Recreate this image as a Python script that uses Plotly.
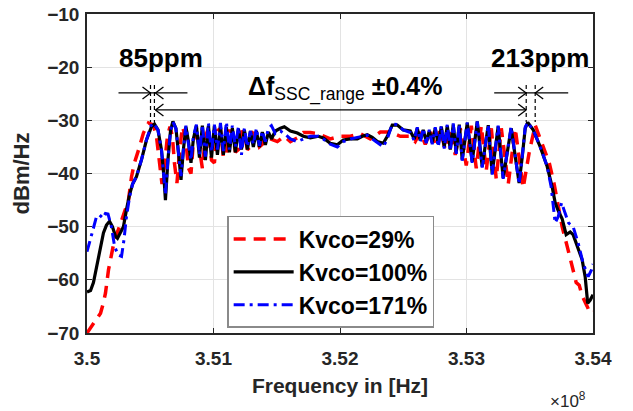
import plotly.graph_objects as go

# ---------------- data (frequency in MHz, PSD in dBm/Hz) ----------------
red_29 = [
    (350.000, -70.0), (350.028, -69.0), (350.051, -68.3), (350.083, -67.3), (350.107, -66.3),
    (350.130, -64.3), (350.146, -62.5), (350.170, -58.1), (350.193, -55.0), (350.217, -52.5),
    (350.257, -50.0), (350.296, -47.5), (350.328, -45.0), (350.352, -40.6), (350.375, -38.0),
    (350.407, -35.6), (350.446, -32.4), (350.486, -30.5), (350.525, -30.9), (350.549, -33.0),
    (350.565, -36.2), (350.577, -39.3), (350.593, -42.0), (350.612, -38.5), (350.636, -33.0),
    (350.656, -31.2), (350.675, -33.0), (350.691, -38.0), (350.711, -41.8), (350.731, -36.0),
    (350.754, -31.2), (350.778, -33.0), (350.802, -39.0), (350.822, -40.0), (350.841, -34.0),
    (350.865, -31.5), (350.889, -35.0), (350.912, -39.0), (350.936, -33.0), (350.960, -31.5),
    (350.984, -37.5), (351.007, -38.0), (351.031, -32.0), (351.055, -31.5), (351.078, -37.0),
    (351.102, -36.5), (351.126, -32.0), (351.149, -32.0), (351.173, -36.0), (351.197, -35.5),
    (351.221, -32.0), (351.244, -32.5), (351.268, -35.5), (351.292, -35.0), (351.315, -32.5),
    (351.339, -33.0), (351.363, -35.0), (351.386, -34.5), (351.410, -33.0), (351.450, -33.5),
    (351.505, -34.0), (351.560, -33.0), (351.608, -34.0), (351.663, -33.3), (351.710, -32.3),
    (351.766, -32.3), (351.829, -32.5), (351.923, -33.5), (352.002, -33.0), (352.082, -33.0),
    (352.161, -32.5), (352.240, -33.5), (352.319, -32.2), (352.398, -32.2), (352.477, -33.0),
    (352.556, -33.0), (352.595, -34.0), (352.635, -32.2), (352.674, -34.5), (352.714, -32.0),
    (352.753, -35.0), (352.793, -31.8), (352.832, -35.5), (352.872, -31.5), (352.911, -36.5),
    (352.951, -31.5), (352.998, -38.5), (353.038, -31.0), (353.077, -39.0), (353.117, -31.0),
    (353.156, -39.5), (353.196, -31.5), (353.235, -41.0), (353.275, -31.5), (353.330, -42.0),
    (353.385, -31.5), (353.448, -42.7), (353.496, -36.0), (353.543, -30.9), (353.606, -35.0),
    (353.654, -38.0), (353.693, -42.0), (353.725, -46.0), (353.756, -50.0), (353.796, -53.7),
    (353.835, -57.5), (353.867, -60.5), (353.891, -61.0), (353.914, -63.0), (353.954, -65.0),
    (353.978, -66.3), (354.000, -66.0),
]

black_100 = [
    (350.000, -62.3), (350.028, -62.0), (350.051, -60.5), (350.075, -57.5), (350.099, -55.3),
    (350.115, -53.0), (350.130, -51.2), (350.154, -49.7), (350.178, -49.0), (350.201, -50.0),
    (350.225, -51.8), (350.241, -52.2), (350.257, -51.5), (350.288, -50.0), (350.312, -46.8),
    (350.336, -44.0), (350.360, -42.0), (350.391, -40.6), (350.431, -37.4), (350.470, -33.7),
    (350.510, -31.2), (350.533, -30.7), (350.561, -31.8), (350.589, -35.6), (350.608, -40.6),
    (350.620, -45.0), (350.640, -37.4), (350.660, -32.0), (350.679, -30.2), (350.703, -31.5),
    (350.727, -37.0), (350.743, -41.2), (350.762, -35.5), (350.782, -31.2), (350.802, -34.0),
    (350.822, -38.0), (350.841, -33.5), (350.865, -31.0), (350.889, -37.0), (350.912, -31.0),
    (350.936, -37.5), (350.960, -31.0), (350.984, -37.0), (351.007, -31.0), (351.031, -36.5),
    (351.055, -31.2), (351.078, -36.5), (351.102, -31.3), (351.126, -36.0), (351.149, -31.5),
    (351.173, -36.0), (351.197, -31.6), (351.221, -35.5), (351.244, -31.8), (351.268, -35.5),
    (351.292, -32.0), (351.315, -35.0), (351.339, -32.0), (351.363, -35.0), (351.386, -32.2),
    (351.410, -34.6), (351.434, -32.2), (351.458, -33.5), (351.489, -32.0), (351.529, -31.5),
    (351.560, -31.2), (351.608, -32.0), (351.663, -32.4), (351.710, -33.0), (351.766, -33.3),
    (351.829, -33.0), (351.868, -33.3), (351.923, -34.3), (351.979, -34.6), (352.026, -33.7),
    (352.082, -33.5), (352.137, -33.5), (352.176, -33.0), (352.216, -32.7), (352.255, -33.2),
    (352.295, -34.0), (352.342, -34.3), (352.374, -33.0), (352.413, -30.9), (352.453, -30.9),
    (352.500, -31.8), (352.556, -32.0), (352.587, -33.5), (352.611, -31.5), (352.635, -33.8),
    (352.658, -31.8), (352.682, -34.0), (352.706, -32.0), (352.729, -34.2), (352.753, -31.5),
    (352.777, -34.5), (352.801, -31.2), (352.824, -35.0), (352.848, -31.0), (352.872, -35.5),
    (352.895, -30.8), (352.919, -36.0), (352.943, -30.8), (352.966, -37.4), (353.006, -30.5),
    (353.045, -37.8), (353.085, -30.2), (353.124, -38.7), (353.172, -30.9), (353.203, -40.0),
    (353.250, -31.2), (353.290, -40.8), (353.353, -31.5), (353.416, -41.8), (353.440, -37.0),
    (353.464, -31.5), (353.484, -30.4), (353.527, -31.8), (353.583, -35.0), (353.638, -38.7),
    (353.677, -42.5), (353.701, -45.5), (353.725, -47.0), (353.756, -48.5), (353.788, -51.5),
    (353.820, -51.0), (353.843, -51.5), (353.875, -53.7), (353.914, -56.2), (353.938, -59.4),
    (353.958, -64.4), (353.978, -63.8), (354.000, -62.8),
]

blue_171 = [
    (350.000, -54.7), (350.020, -53.1), (350.047, -50.6), (350.075, -48.1), (350.099, -47.8),
    (350.126, -48.4), (350.146, -47.5), (350.166, -47.6), (350.193, -50.0), (350.218, -53.7),
    (350.245, -55.3), (350.273, -55.6), (350.292, -52.5), (350.312, -48.1), (350.336, -44.5),
    (350.360, -42.0), (350.391, -40.6), (350.431, -37.4), (350.470, -33.7), (350.506, -31.0),
    (350.526, -30.5), (350.561, -31.8), (350.589, -35.6), (350.608, -40.6), (350.620, -44.0),
    (350.640, -37.4), (350.660, -32.0), (350.679, -30.3), (350.703, -31.5), (350.727, -37.0),
    (350.743, -40.5), (350.762, -35.5), (350.782, -31.0), (350.802, -34.5), (350.822, -37.5),
    (350.841, -33.0), (350.865, -30.8), (350.889, -36.5), (350.912, -30.8), (350.936, -36.8),
    (350.960, -30.5), (350.984, -36.0), (351.007, -30.8), (351.031, -35.5), (351.055, -30.5),
    (351.078, -35.8), (351.102, -30.3), (351.126, -35.5), (351.149, -31.0), (351.173, -35.0),
    (351.197, -31.2), (351.221, -36.5), (351.244, -31.5), (351.268, -35.0), (351.292, -32.0),
    (351.315, -34.5), (351.339, -31.5), (351.363, -34.8), (351.386, -32.0), (351.410, -34.0),
    (351.434, -31.5), (351.458, -31.0), (351.489, -32.5), (351.529, -32.0), (351.560, -32.5),
    (351.608, -33.5), (351.663, -34.0), (351.710, -33.5), (351.766, -33.0), (351.829, -33.0),
    (351.868, -33.5), (351.923, -34.5), (351.979, -35.0), (352.026, -34.0), (352.082, -33.5),
    (352.137, -33.2), (352.176, -33.0), (352.216, -32.8), (352.255, -33.5), (352.295, -34.2),
    (352.342, -35.0), (352.374, -33.5), (352.413, -30.7), (352.453, -30.8), (352.500, -31.8),
    (352.556, -32.3), (352.587, -33.8), (352.611, -31.3), (352.635, -34.0), (352.658, -31.5),
    (352.682, -34.3), (352.706, -31.8), (352.729, -34.5), (352.753, -31.3), (352.777, -35.0),
    (352.801, -31.0), (352.824, -35.3), (352.848, -30.8), (352.872, -35.8), (352.895, -30.6),
    (352.919, -36.3), (352.943, -30.6), (352.966, -37.6), (353.006, -30.4), (353.045, -38.0),
    (353.085, -30.2), (353.124, -38.9), (353.172, -30.8), (353.203, -40.2), (353.250, -31.0),
    (353.290, -41.0), (353.353, -31.2), (353.416, -42.0), (353.440, -37.0), (353.464, -31.3),
    (353.484, -30.4), (353.527, -31.8), (353.583, -35.0), (353.638, -38.7), (353.669, -42.5),
    (353.701, -49.3), (353.725, -48.1), (353.752, -45.5), (353.780, -47.5), (353.807, -49.3),
    (353.843, -50.0), (353.883, -53.1), (353.922, -56.9), (353.962, -59.4), (353.989, -58.1),
    (354.000, -57.0),
]

series_names = ["Kvco=29%", "Kvco=100%", "Kvco=171%"]
x_tick_vals_hz = [3.50e8, 3.51e8, 3.52e8, 3.53e8, 3.54e8]
x_tick_text = ["3.5", "3.51", "3.52", "3.53", "3.54"]
y_tick_vals = [-10, -20, -30, -40, -50, -60, -70]

# annotation markers (frequencies in MHz)
left_edges_mhz = [350.502, 350.533]
right_edges_mhz = [353.472, 353.543]

FONT = "Liberation Sans, Arial, sans-serif"


def unzip(pairs):
    return [p[0] * 1e6 for p in pairs], [p[1] for p in pairs]


fig = go.Figure()
styles = [
    dict(color="#ff0000", width=3.5, dash="12px,8px"),
    dict(color="#000000", width=3.2),
    dict(color="#0000ff", width=3.0, dash="11px,5px,3px,5px"),
]
for data, name, st in zip([red_29, black_100, blue_171], series_names, styles):
    xs, ys = unzip(data)
    fig.add_trace(go.Scatter(x=xs, y=ys, mode="lines", name=name, line=st))

# ---- annotation shapes ----
shapes = []
y_small = -24.85
y_long = -28.05
y_top = -23.35
y_bot = -30.3


def hline(x0, x1, y):
    return dict(type="line", xref="x", yref="y", x0=x0 * 1e6, x1=x1 * 1e6, y0=y, y1=y,
                line=dict(color="black", width=1.3))


def vdash(x):
    return dict(type="line", xref="x", yref="y", x0=x * 1e6, x1=x * 1e6, y0=y_top, y1=y_bot,
                line=dict(color="black", width=1.2, dash="4px,3px"))


def head(xtip, y, direction):
    out = []
    for s in (1, -1):
        out.append(dict(type="line", xref="x", yref="y", xsizemode="pixel", ysizemode="pixel",
                        xanchor=xtip * 1e6, yanchor=y, x0=0, x1=-direction * 8, y0=0, y1=s * 6,
                        line=dict(color="black", width=1.3)))
    return out


shapes.append(hline(350.249, 350.794, y_small))
shapes.append(hline(353.219, 353.804, y_small))
shapes.append(hline(350.541, 353.472, y_long))
for x in left_edges_mhz + right_edges_mhz:
    shapes.append(vdash(x))
shapes += head(350.502, y_small, +1)
shapes += head(350.541, y_small, -1)
shapes += head(353.472, y_small, +1)
shapes += head(353.543, y_small, -1)
shapes += head(350.541, y_long, -1)
shapes += head(353.472, y_long, +1)

annotations = [
    dict(x=350.581e6, y=-18.3, xref="x", yref="y", text="<b>85ppm</b>", showarrow=False,
         font=dict(family=FONT, size=26, color="black")),
    dict(x=353.583e6, y=-18.3, xref="x", yref="y", text="<b>213ppm</b>", showarrow=False,
         font=dict(family=FONT, size=26, color="black")),
    dict(x=352.042e6, y=-24.1, xref="x", yref="y",
         text="<b>Δf</b><sub>SSC_range</sub> <b>±0.4%</b>", showarrow=False,
         font=dict(family=FONT, size=25, color="black")),
    dict(x=0.99, y=-0.25, xref="paper", yref="paper", text="×10<sup>8</sup>", showarrow=False,
         font=dict(family=FONT, size=17, color="#262626")),
]

axis_common = dict(
    showline=True, linecolor="#262626", linewidth=1.5, mirror="ticks",
    ticks="inside", ticklen=5, tickcolor="#262626", tickwidth=1.2,
    showgrid=True, gridcolor="#e3e3e3", gridwidth=1, zeroline=False, automargin=False,
    ticklabeloverflow="allow",
    tickfont=dict(family=FONT, size=19, color="#262626", weight="bold"),
)

# the page body adds an 8px offset, so the figure is drawn 8px smaller
fig.update_layout(
    width=625, height=403,
    margin=dict(l=79, r=40, t=6, b=78, autoexpand=False),
    paper_bgcolor="white", plot_bgcolor="white",
    xaxis=dict(range=[3.5e8, 3.54e8], tickvals=x_tick_vals_hz, ticktext=x_tick_text,
               ticklabelstandoff=7,
               title=dict(text="Frequency in [Hz]", standoff=11,
                          font=dict(family=FONT, size=21, color="#262626", weight="bold")),
               **axis_common),
    yaxis=dict(range=[-70, -10], tickvals=y_tick_vals, ticklabelstandoff=2,
               title=dict(text="dBm/Hz", standoff=12,
                          font=dict(family=FONT, size=22, color="#262626", weight="bold")),
               **axis_common),
    legend=dict(x=0.277, y=0.367, xanchor="left", yanchor="top",
                bgcolor="white", bordercolor="#8a8a8a", borderwidth=1.5,
                font=dict(family=FONT, size=23, color="black", weight="bold"),
                itemwidth=60, tracegroupgap=0),
    shapes=shapes,
    annotations=annotations,
    showlegend=True,
)

fig.write_html("out.html")
